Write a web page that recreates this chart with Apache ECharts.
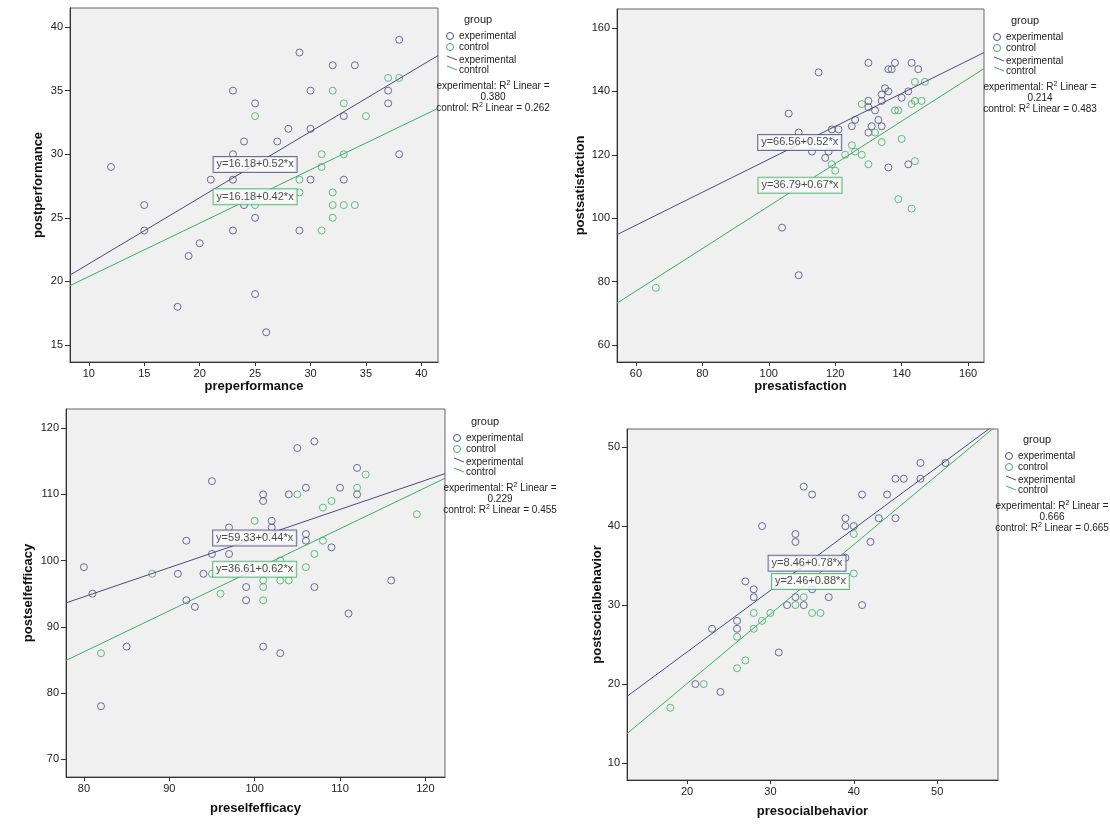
<!DOCTYPE html>
<html>
<head>
<meta charset="utf-8">
<script src="https://cdn.jsdelivr.net/npm/echarts@6/dist/echarts.min.js"></script>
<style>
html,body{margin:0;padding:0;background:#fff;}
#main{width:1110px;height:825px;}
</style>
</head>
<body>
<div id="main"></div>
<script>
// 数据：每个面板的实验组 / 对照组 (前测, 后测)
var perfExp = [[38,39],[29,38],[32,37],[34,37],[30,35],[37,35],[25,34],[37,34],[33,33],[28,32],[30,32],[24,31],[27,31],[12,29],[21,28],[30,28],[33,28],[15,26],[24,26],[15,24],[29,24],[20,23],[19,22],[18,18],[26,16],[23,35],[23,30],[38,30],[23,28],[25,25],[23,24],[25,19]];
var perfCtrl = [[37,36],[38,36],[32,35],[33,34],[25,33],[35,33],[31,30],[33,30],[31,29],[29,28],[29,27],[32,27],[32,26],[33,26],[34,26],[25,26],[32,25],[31,24]];

var satExp = [[106,133],[115,146],[130,149],[138,149],[143,149],[136,147],[137,147],[145,147],[135,141],[136,140],[134,139],[142,140],[140,138],[130,137],[134,137],[130,135],[132,134],[126,131],[133,131],[125,129],[131,129],[134,129],[130,127],[119,128],[121,128],[113,121],[118,121],[117,119],[136,116],[142,117],[109,127],[104,97],[109,82]];
var satCtrl = [[66,78],[144,143],[147,143],[128,136],[138,134],[139,134],[143,136],[144,137],[146,137],[132,127],[134,124],[140,125],[125,123],[126,121],[123,120],[128,120],[119,117],[130,117],[144,118],[120,115],[139,106],[143,103]];

var effExp = [[80,99],[81,95],[92,103],[92,94],[93,93],[94,98],[95,101],[97,105],[97,101],[99,96],[99,94],[101,110],[101,109],[102,106],[102,105],[104,110],[105,117],[106,111],[106,104],[106,103],[107,118],[107,96],[109,102],[110,111],[111,92],[112,114],[112,110],[95,112],[91,98],[82,78],[85,87],[101,87],[103,86],[116,97]];
var effCtrl = [[82,86],[88,98],[95,98],[96,95],[100,106],[101,97],[101,96],[101,94],[103,100],[103,97],[104,97],[105,110],[106,99],[107,101],[108,108],[108,103],[109,109],[112,111],[113,113],[119,107]];

var socExp = [[23,27],[26,28],[26,27],[27,33],[28,32],[28,31],[29,40],[31,24],[32,30],[33,39],[33,38],[33,31],[34,45],[34,30],[35,44],[35,32],[37,31],[39,41],[39,40],[39,36],[40,40],[41,44],[41,30],[42,38],[43,41],[44,44],[45,46],[46,46],[45,41],[48,48],[48,46],[51,48],[21,20],[24,19]];
var socCtrl = [[18,17],[22,20],[26,26],[26,22],[27,23],[28,29],[28,27],[29,28],[30,29],[33,30],[34,31],[35,29],[36,29],[40,39],[40,34]];

// 回归系数 [截距, 斜率]
var expFit = [[16.18,0.52],[66.56,0.52],[59.33,0.44],[8.46,0.78]];
var ctrlFit = [[16.18,0.42],[36.79,0.67],[36.61,0.62],[2.46,0.88]];
var r2Exp = ['0.380','0.214','0.229','0.666'];
var r2Ctrl = ['0.262','0.483','0.455','0.665'];

var xNames = ['preperformance','presatisfaction','preselfefficacy','presocialbehavior'];
var yNames = ['postperformance','postsatisfaction','postselfefficacy','postsocialbehavior'];
var xTicks = [[10,15,20,25,30,35,40],[60,80,100,120,140,160],[80,90,100,110,120],[20,30,40,50]];
var yTicks = [[15,20,25,30,35,40],[60,80,100,120,140,160],[70,80,90,100,110,120],[10,20,30,40,50]];

var expPts = [perfExp, satExp, effExp, socExp];
var ctrlPts = [perfCtrl, satCtrl, effCtrl, socCtrl];

// 布局
var panels = [
  {grid:{left:70,top:8,width:368,height:354}, x:[8.3,41.5], y:[13.66,41.5], xGap:12, yGap:25, eqE:[25,29.2], eqC:[25,26.65], leg:[478,21]},
  {grid:{left:617,top:9,width:367,height:353}, x:[54.3,164.8], y:[54.6,166], xGap:12, yGap:30, eqE:[109.3,123.9], eqC:[109.4,110.4], leg:[1025,22]},
  {grid:{left:66,top:409,width:379,height:368}, x:[77.9,122.3], y:[67.3,122.9], xGap:25, yGap:31, eqE:[100,103.4], eqC:[100,98.7], leg:[485,423]},
  {grid:{left:627,top:429,width:371,height:351}, x:[12.8,57.3], y:[7.85,52.3], xGap:25, yGap:22, eqE:[34.4,35.3], eqC:[34.8,33.0], leg:[1037,441]}
];

var expColor = '#4b4b80';
var ctrlColor = '#3fae66';
var font = 'Arial, "Liberation Sans", sans-serif';

var grids = [], xAxes = [], yAxes = [], series = [], graphics = [];

function eqText(fit){
  return 'y=' + fit[0].toFixed(2) + '+' + fit[1].toFixed(2) + '*x';
}

panels.forEach(function(p, i){
  grids.push(Object.assign({show:true, backgroundColor:'#f0f0f0', borderColor:'#666', borderWidth:1}, p.grid));
  xAxes.push({
    gridIndex:i, type:'value', min:p.x[0], max:p.x[1],
    name:xNames[i], nameLocation:'middle', nameGap:p.xGap,
    nameTextStyle:{fontFamily:font, fontWeight:'bold', fontSize:13, color:'#111', verticalAlign:'top'},
    axisLine:{show:true, onZero:false, lineStyle:{color:'#333'}},
    axisTick:{show:true, customValues:xTicks[i], length:4, lineStyle:{color:'#333'}},
    axisLabel:{customValues:xTicks[i], fontFamily:font, fontSize:11, color:'#222', margin:6},
    splitLine:{show:false}
  });
  yAxes.push({
    gridIndex:i, type:'value', min:p.y[0], max:p.y[1],
    name:yNames[i], nameLocation:'middle', nameGap:p.yGap, nameRotate:90,
    nameTextStyle:{fontFamily:font, fontWeight:'bold', fontSize:13, color:'#111'},
    axisLine:{show:true, onZero:false, lineStyle:{color:'#333'}},
    axisTick:{show:true, customValues:yTicks[i], length:5, lineStyle:{color:'#333'}},
    axisLabel:{customValues:yTicks[i], fontFamily:font, fontSize:11, color:'#222', margin:7},
    splitLine:{show:false}
  });

  // 散点
  series.push({
    type:'scatter', xAxisIndex:i, yAxisIndex:i, data:expPts[i], symbol:'circle', symbolSize:7,
    itemStyle:{color:'rgba(0,0,0,0)', borderColor:expColor, borderWidth:1}, silent:true
  });
  series.push({
    type:'scatter', xAxisIndex:i, yAxisIndex:i, data:ctrlPts[i], symbol:'circle', symbolSize:7,
    itemStyle:{color:'rgba(0,0,0,0)', borderColor:ctrlColor, borderWidth:1}, silent:true
  });

  // 回归线 (两端取坐标轴范围)
  [[expFit[i], expColor],[ctrlFit[i], ctrlColor]].forEach(function(f){
    var a = f[0][0], b = f[0][1];
    series.push({
      type:'line', xAxisIndex:i, yAxisIndex:i, showSymbol:false, clip:true, silent:true,
      data:[[p.x[0], a + b*p.x[0]], [p.x[1], a + b*p.x[1]]],
      lineStyle:{color:f[1], width:1}, z:3
    });
  });

  // 方程标签
  [[p.eqE, expFit[i], expColor],[p.eqC, ctrlFit[i], ctrlColor]].forEach(function(e){
    series.push({
      type:'scatter', xAxisIndex:i, yAxisIndex:i, data:[e[0]], symbolSize:1, silent:true, z:6,
      itemStyle:{color:'rgba(0,0,0,0)'},
      label:{show:true, position:'inside', formatter:eqText(e[1]), fontFamily:font, fontSize:11, color:'#222',
        backgroundColor:'#fbfbfb', borderColor:e[2], borderWidth:1, padding:[2,3]}
    });
  });

  // 图例
  var gx = p.leg[0], gy = p.leg[1];
  var ts = {fontFamily:font, fontSize:10, fill:'#222'};
  graphics.push({type:'text', left:gx-14, top:gy-7, style:Object.assign({text:'group', fontSize:11}, {fontFamily:font, fill:'#222'})});
  graphics.push({type:'circle', shape:{cx:gx-28, cy:gy+15, r:3.5}, style:{fill:'none', stroke:expColor, lineWidth:1}});
  graphics.push({type:'circle', shape:{cx:gx-28, cy:gy+26, r:3.5}, style:{fill:'none', stroke:ctrlColor, lineWidth:1}});
  graphics.push({type:'text', x:gx-19, y:gy+15, style:Object.assign({text:'experimental', verticalAlign:'middle'}, ts)});
  graphics.push({type:'text', x:gx-19, y:gy+26, style:Object.assign({text:'control', verticalAlign:'middle'}, ts)});
  graphics.push({type:'line', shape:{x1:gx-31, y1:gy+35, x2:gx-21, y2:gy+39}, style:{stroke:expColor, lineWidth:1}});
  graphics.push({type:'line', shape:{x1:gx-31, y1:gy+45, x2:gx-21, y2:gy+49}, style:{stroke:ctrlColor, lineWidth:1}});
  graphics.push({type:'text', x:gx-19, y:gy+39, style:Object.assign({text:'experimental', verticalAlign:'middle'}, ts)});
  graphics.push({type:'text', x:gx-19, y:gy+49, style:Object.assign({text:'control', verticalAlign:'middle'}, ts)});
  var rich = {sup:{fontSize:7, fontFamily:font, fill:'#222', padding:[0,0,6,0]}};
  graphics.push({type:'text', x:gx+15, y:gy+65, style:Object.assign({text:'experimental: R{sup|2} Linear =', align:'center', verticalAlign:'middle', rich:rich}, ts)});
  graphics.push({type:'text', x:gx+15, y:gy+76, style:Object.assign({text:r2Exp[i], align:'center', verticalAlign:'middle'}, ts)});
  graphics.push({type:'text', x:gx+15, y:gy+87, style:Object.assign({text:'control: R{sup|2} Linear = ' + r2Ctrl[i], align:'center', verticalAlign:'middle', rich:rich}, ts)});
});

var myChart = echarts.init(document.getElementById('main'));
myChart.setOption({
  backgroundColor:'#ffffff',
  animation:false,
  grid:grids,
  xAxis:xAxes,
  yAxis:yAxes,
  series:series,
  graphic:graphics
});
</script>
</body>
</html>
